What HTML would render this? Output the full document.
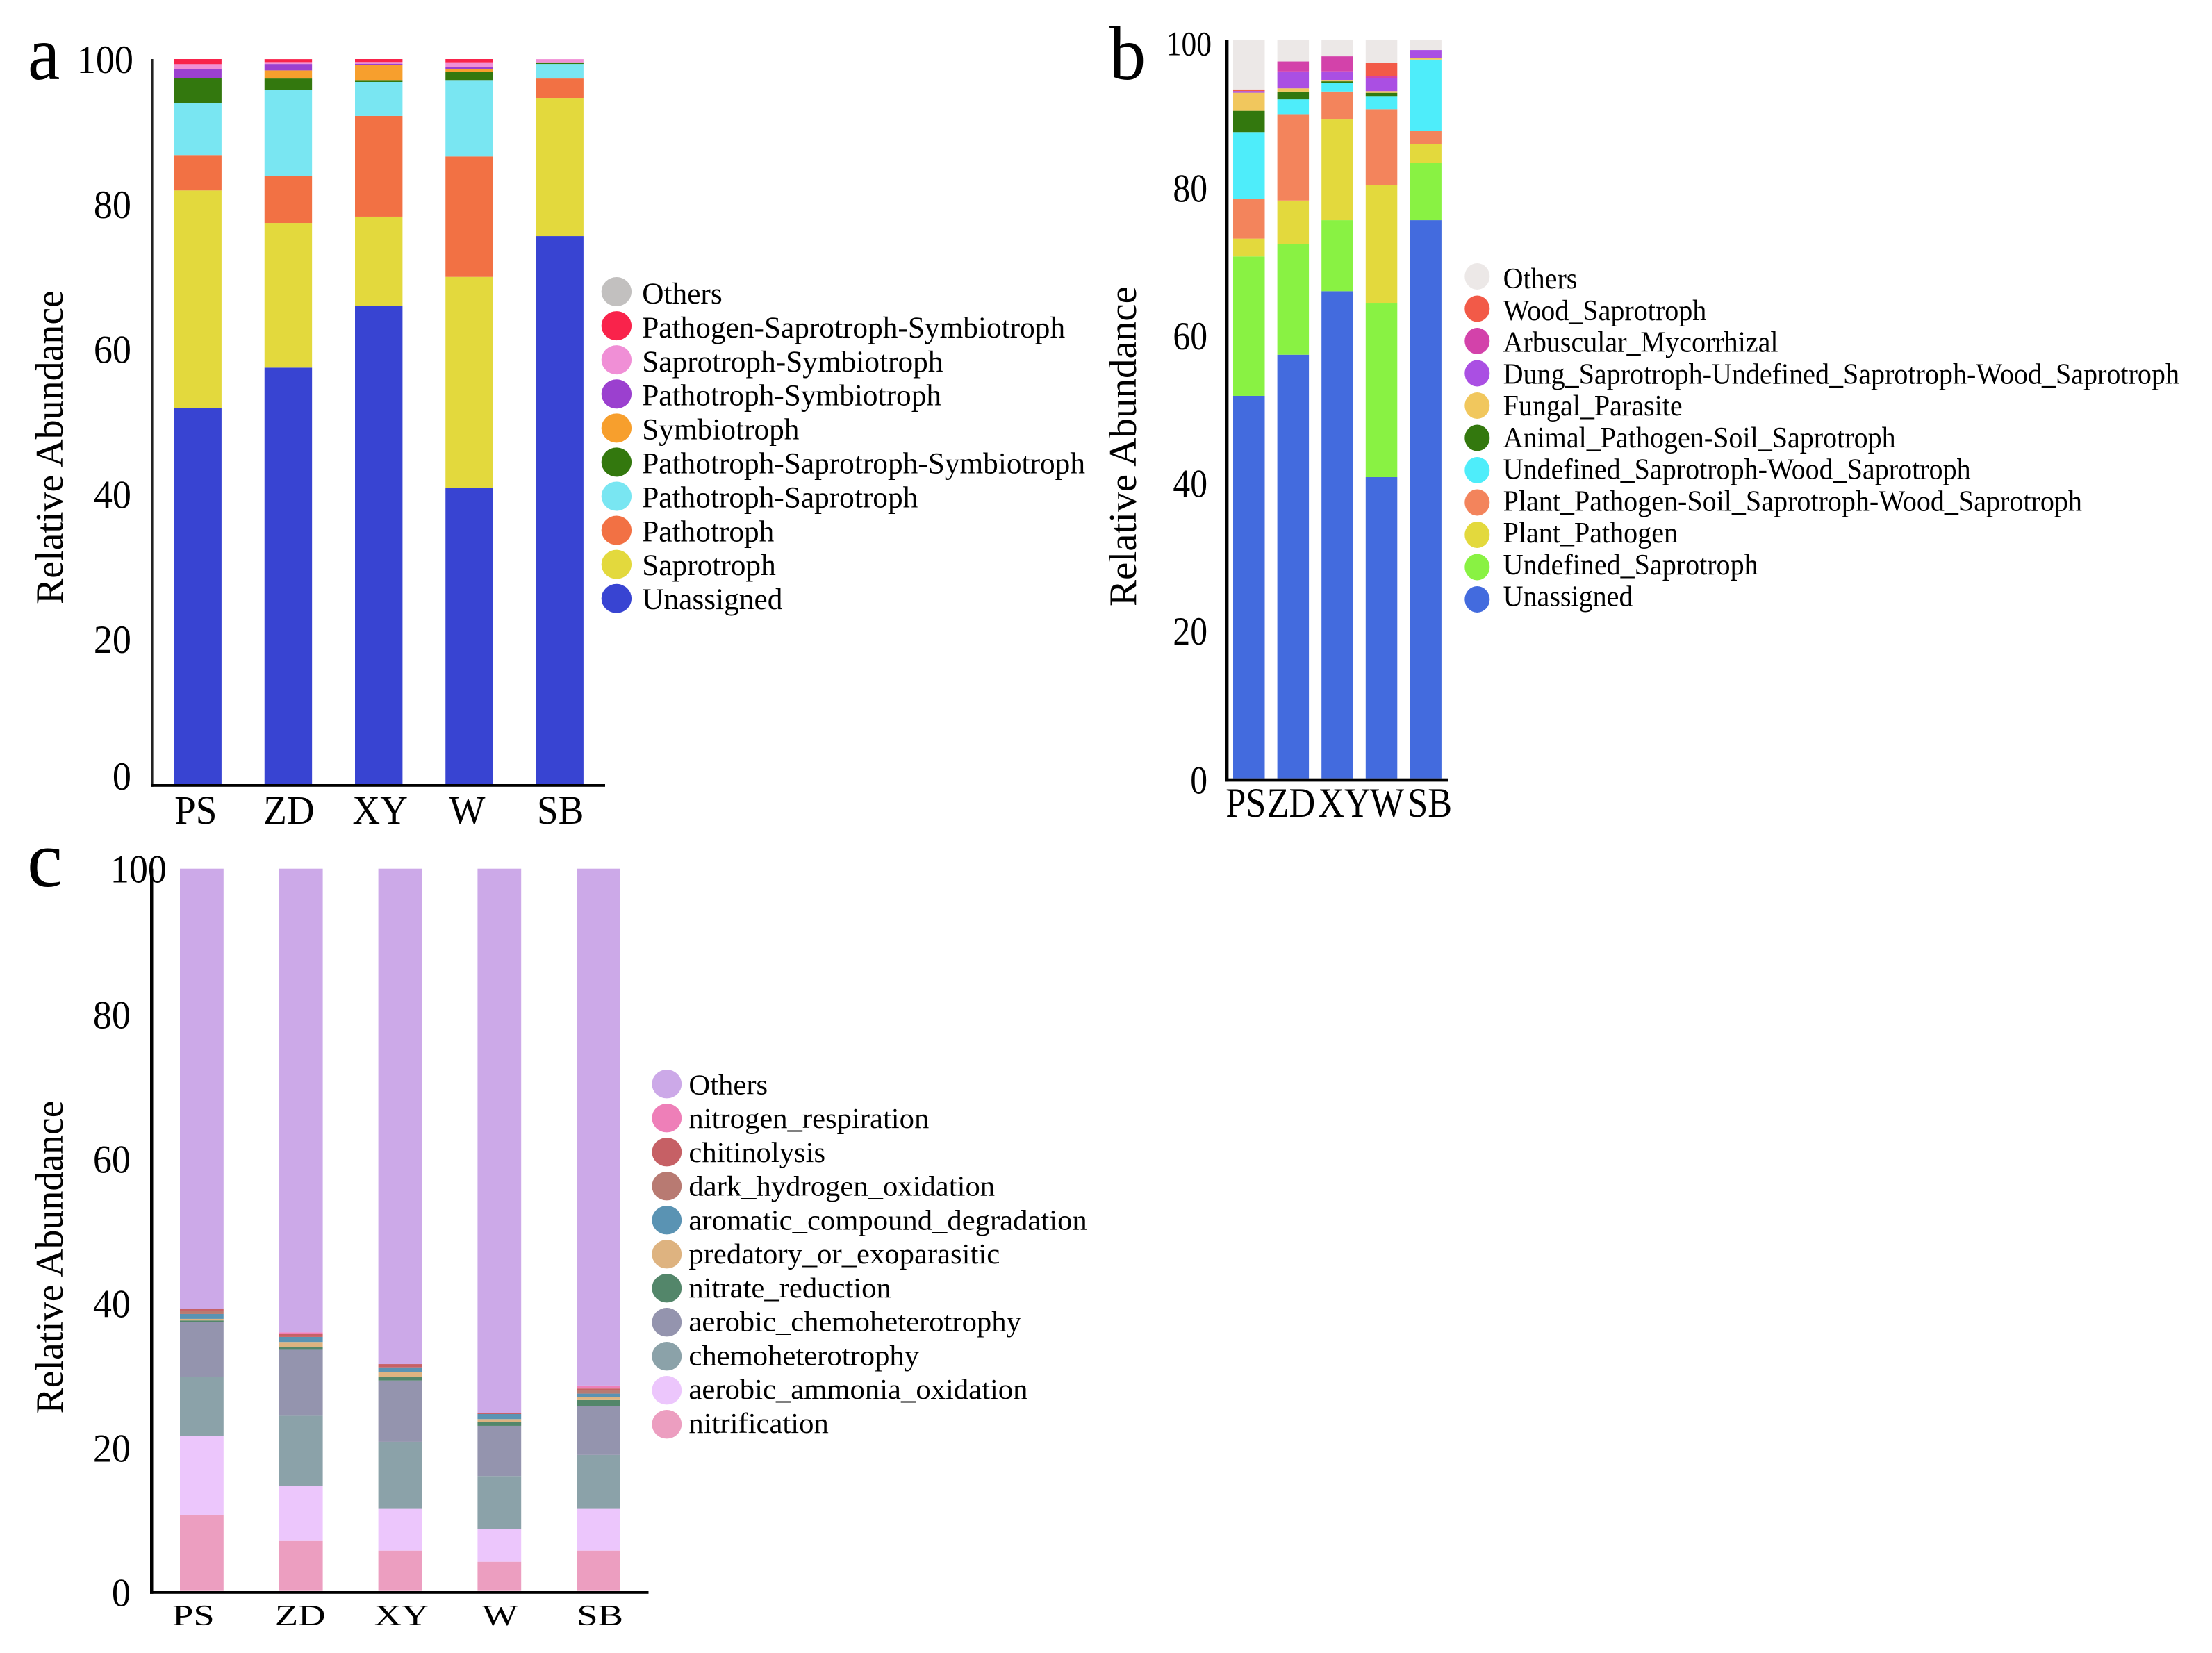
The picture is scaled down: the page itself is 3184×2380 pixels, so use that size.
<!DOCTYPE html>
<html lang="en">
<head>
<meta charset="utf-8">
<title>Relative abundance stacked bar charts</title>
<style>
  html, body { margin: 0; padding: 0; background: #ffffff; }
  svg { display: block; font-family: "Liberation Serif", "Times New Roman", serif; fill: #000; }
</style>
</head>
<body>
<svg id="figure" xmlns="http://www.w3.org/2000/svg" width="3184" height="2380" viewBox="0 0 3184 2380">
  <rect x="0" y="0" width="3184" height="2380" fill="#ffffff"></rect>
  <g id="panel-a"></g>
  <g id="panel-b"></g>
  <g id="panel-c"></g>
</svg>
<script>
// ---------- shared categories and ticks ----------
const categories = ['PS', 'ZD', 'XY', 'W', 'SB'];
const tickValues = [0, 20, 40, 60, 80, 100];

// ---------- panel a data (bottom to top) ----------
const aNames = ['Unassigned', 'Saprotroph', 'Pathotroph', 'Pathotroph-Saprotroph', 'Pathotroph-Saprotroph-Symbiotroph', 'Symbiotroph', 'Pathotroph-Symbiotroph', 'Saprotroph-Symbiotroph', 'Pathogen-Saprotroph-Symbiotroph', 'Others'];
const aColors = ['#3844d2', '#e3d93d', '#f27144', '#79e6f2', '#33780e', '#f79f2d', '#9b40cf', '#f08fd6', '#f9234b', '#c2c0bf'];
const aUnassigned = [51.85, 57.44, 65.93, 40.87, 75.57];
const aSaprotroph = [30.02, 19.95, 12.33, 29.08, 19.06];
const aPathotroph = [4.89, 6.51, 13.89, 16.61, 2.68];
const aPathSap = [7.18, 11.81, 4.69, 10.54, 2.01];
const aPathSapSym = [3.38, 1.6, 0.26, 1.11, 0.22];
const aSymbiotroph = [0, 1.12, 2.04, 0.42, 0];
const aPathSym = [1.31, 0.89, 0.22, 0.22, 0];
const aSapSym = [0.67, 0.26, 0.23, 0.7, 0.45];
const aPathogenSapSym = [0.7, 0.41, 0.41, 0.45, 0];
const aOthers = [0, 0, 0, 0, 0];

// ---------- panel b data (bottom to top) ----------
const bNames = ['Unassigned', 'Undefined_Saprotroph', 'Plant_Pathogen', 'Plant_Pathogen-Soil_Saprotroph-Wood_Saprotroph', 'Undefined_Saprotroph-Wood_Saprotroph', 'Animal_Pathogen-Soil_Saprotroph', 'Fungal_Parasite', 'Dung_Saprotroph-Undefined_Saprotroph-Wood_Saprotroph', 'Arbuscular_Mycorrhizal', 'Wood_Saprotroph', 'Others'];
const bColors = ['#436bde', '#89f243', '#e3d93d', '#f3845c', '#4eedfa', '#33780e', '#f1c75d', '#aa4fe3', '#d342aa', '#f25a48', '#ece8e7'];
const bUnassigned = [51.81, 57.38, 65.98, 40.8, 75.6];
const bUndefinedSap = [18.88, 15.02, 9.62, 23.61, 7.81];
const bPlantPathogen = [2.41, 5.86, 13.64, 15.9, 2.54];
const bPlantSoilWood = [5.36, 11.7, 3.79, 10.32, 1.79];
const bUndefinedWood = [9.07, 2.0, 1.13, 1.79, 9.62];
const bAnimalSoil = [2.88, 1.06, 0.25, 0.43, 0];
const bFungalParasite = [2.45, 0.44, 0.19, 0.23, 0.23];
const bDungWood = [0.23, 2.29, 1.16, 1.79, 1.06];
const bArbuscular = [0, 1.35, 2.04, 0.24, 0];
const bWoodSap = [0.22, 0, 0, 1.76, 0];
const bOthers = [6.71, 2.88, 2.19, 3.13, 1.35];

// ---------- panel c data (bottom to top) ----------
const cNames = ['nitrification', 'aerobic_ammonia_oxidation', 'chemoheterotrophy', 'aerobic_chemoheterotrophy', 'nitrate_reduction', 'predatory_or_exoparasitic', 'aromatic_compound_degradation', 'dark_hydrogen_oxidation', 'chitinolysis', 'nitrogen_respiration', 'Others'];
const cColors = ['#ec9ec0', '#ecc6fc', '#8ba2a9', '#9494ae', '#53866a', '#deb380', '#5a93b3', '#b87a72', '#c66065', '#ee7fb8', '#cca9e8'];
const cNitrification = [10.55, 6.92, 5.58, 4.04, 5.58];
const cAmmonia = [10.96, 7.66, 5.87, 4.49, 5.87];
const cChemo = [8.11, 9.68, 9.2, 7.38, 7.38];
const cAerobicChemo = [7.57, 9.13, 8.49, 6.95, 6.73];
const cNitrate = [0.26, 0.41, 0.45, 0.48, 0.87];
const cPredatory = [0.22, 0.67, 0.67, 0.45, 0.45];
const cAromatic = [0.67, 0.7, 0.7, 0.7, 0.44];
const cDarkHydrogen = [0.48, 0, 0, 0, 0.48];
const cChitinolysis = [0.19, 0.45, 0.45, 0.19, 0.23];
const cNitrogenResp = [0, 0.19, 0, 0, 0.41];
const cOthers = [60.99, 64.19, 68.59, 75.32, 71.56];

const aSeries = [aUnassigned, aSaprotroph, aPathotroph, aPathSap, aPathSapSym, aSymbiotroph, aPathSym, aSapSym, aPathogenSapSym, aOthers];
const bSeries = [bUnassigned, bUndefinedSap, bPlantPathogen, bPlantSoilWood, bUndefinedWood, bAnimalSoil, bFungalParasite, bDungWood, bArbuscular, bWoodSap, bOthers];
const cSeries = [cNitrification, cAmmonia, cChemo, cAerobicChemo, cNitrate, cPredatory, cAromatic, cDarkHydrogen, cChitinolysis, cNitrogenResp, cOthers];

const SVG_NS = 'http://www.w3.org/2000/svg';

function makeNode(parent, tag) {
  const el = document.createElementNS(SVG_NS, tag);
  parent.appendChild(el);
  return el;
}

function makeText(parent, str, x, y, size, anchor, sx) {
  const el = makeNode(parent, 'text');
  el.textContent = str;
  el.setAttribute('font-size', size);
  el.setAttribute('text-anchor', anchor);
  el.setAttribute('transform', 'translate(' + x + ' ' + y + ') scale(' + sx + ' 1)');
  return el;
}

function drawPanel(root, cfg) {
  const yScale = function (v) { return cfg.y0 - v * cfg.yUnit; };
  const band = function (i) { return cfg.barLeft + i * cfg.barStep; };

  // stacked bars
  categories.forEach(function (cat, i) {
    let cumulative = 0;
    cfg.series.forEach(function (values, s) {
      const v = values[i];
      if (v > 0) {
        const rect = makeNode(root, 'rect');
        
        
        rect.setAttribute('data-series', cfg.names[s]);
        rect.setAttribute('data-category', cat);
        rect.setAttribute('x', band(i));
        rect.setAttribute('width', cfg.barWidth);
        rect.setAttribute('y', yScale(cumulative + v));
        rect.setAttribute('height', yScale(cumulative) - yScale(cumulative + v));
        rect.setAttribute('fill', cfg.colors[s]);
      }
      cumulative += v;
    });
  });

  // axes
  const yAxis = makeNode(root, 'rect');
  
  
  yAxis.setAttribute('x', cfg.axisX);
  yAxis.setAttribute('y', yScale(100));
  yAxis.setAttribute('width', cfg.axisW);
  yAxis.setAttribute('height', cfg.axisBottom + cfg.axisH - yScale(100));
  yAxis.setAttribute('fill', cfg.axisColor);

  const xAxis = makeNode(root, 'rect');
  
  
  xAxis.setAttribute('x', cfg.axisX);
  xAxis.setAttribute('y', cfg.axisBottom);
  xAxis.setAttribute('width', cfg.axisEnd - cfg.axisX);
  xAxis.setAttribute('height', cfg.axisH);
  xAxis.setAttribute('fill', '#000000');

  // y tick labels
  tickValues.forEach(function (v) {
    const isTop = v === 100;
    const baseline = yScale(v) + cfg.tickOffset + (v === 0 ? cfg.zeroLift : 0) + (isTop ? cfg.topDy : 0);
    const right = cfg.tickRight + (isTop ? cfg.topDx : 0);
    const size = isTop ? cfg.topSize : cfg.tickSize;
    const label = makeText(root, String(v), right, baseline, size, 'end', cfg.tickSx);
    
    
  });

  // x category labels
  categories.forEach(function (cat, i) {
    const cx = band(i) + cfg.barWidth / 2 + cfg.xLabelDx[i];
    const label = makeText(root, cat, cx, cfg.xLabelY, cfg.xLabelSize, 'middle', cfg.xLabelSx);
    
    
  });

  // y axis title
  const title = makeNode(root, 'text');
  title.textContent = 'Relative Abundance';
  
  
  title.setAttribute('font-size', cfg.titleSize);
  title.setAttribute('text-anchor', 'middle');
  title.setAttribute('transform', 'translate(' + cfg.titleX + ' ' + cfg.titleY + ') rotate(-90)');
  title.setAttribute('textLength', cfg.titleLen);
  title.setAttribute('lengthAdjust', 'spacingAndGlyphs');

  // panel letter
  const letter = makeText(root, cfg.letter, cfg.letterX, cfg.letterY, cfg.letterSize, 'start', cfg.letterSx);
  
  

  // legend (top to bottom is the reverse of the stack)
  const legendLabels = [];
  const rows = cfg.names.slice().reverse();
  const rowColors = cfg.colors.slice().reverse();
  rows.forEach(function (name, r) {
    const entry = makeNode(root, 'g');
    
    

    const dot = makeNode(entry, 'ellipse');
    
    
    dot.setAttribute('cx', cfg.legendCx);
    dot.setAttribute('cy', cfg.legendCy + r * cfg.legendStep);
    dot.setAttribute('rx', cfg.legendRx);
    dot.setAttribute('ry', cfg.legendRy);
    dot.setAttribute('fill', rowColors[r]);

    const text = makeText(entry, name, cfg.legendTextX, cfg.legendBase + r * cfg.legendBaseStep, cfg.legendSize, 'start', 1);
    
    
    legendLabels.push(text);
  });

  // fit the legend horizontally: the longest label spans the measured width
  let longest = 0;
  legendLabels.forEach(function (t) { longest = Math.max(longest, t.getComputedTextLength()); });
  const fit = cfg.legendWidth / longest;
  legendLabels.forEach(function (t, r) {
    t.setAttribute('transform', 'translate(' + cfg.legendTextX + ' ' + (cfg.legendBase + r * cfg.legendBaseStep) + ') scale(' + fit + ' 1)');
  });
}

drawPanel(document.getElementById('panel-a'), {
  series: aSeries, names: aNames, colors: aColors,
  y0: 1129, yUnit: 10.44, barLeft: 250.5, barStep: 130.25, barWidth: 68.4,
  axisX: 217, axisW: 3.6, axisBottom: 1129, axisH: 3.8, axisEnd: 871, axisColor: '#222222',
  tickOffset: 20, zeroLift: -12, tickRight: 189, topDx: 3, topDy: 0, tickSize: 57, topSize: 57, tickSx: 0.95,
  xLabelY: 1186, xLabelSize: 58, xLabelSx: 0.95, xLabelDx: [-3, 1, 2, -3, 1],
  titleSize: 56, titleX: 90, titleY: 644, titleLen: 452,
  letter: 'a', letterX: 40, letterY: 114, letterSize: 110, letterSx: 0.95,
  legendCx: 887.4, legendCy: 420, legendStep: 49.08, legendRx: 21.7, legendRy: 21,
  legendTextX: 924.2, legendBase: 437, legendBaseStep: 48.9, legendSize: 43, legendWidth: 638
});

drawPanel(document.getElementById('panel-b'), {
  series: bSeries, names: bNames, colors: bColors,
  y0: 1120.7, yUnit: 10.63, barLeft: 1775, barStep: 63.6, barWidth: 45.5,
  axisX: 1763.5, axisW: 4.9, axisBottom: 1120.7, axisH: 4.7, axisEnd: 2084, axisColor: '#000000',
  tickOffset: 20, zeroLift: 2, tickRight: 1738, topDx: 6, topDy: 2, tickSize: 57, topSize: 50, tickSx: 0.87,
  xLabelY: 1176, xLabelSize: 60, xLabelSx: 0.87, xLabelDx: [-4.5, -3, 10, 8, 6],
  titleSize: 56, titleX: 1635, titleY: 642.5, titleLen: 461,
  letter: 'b', letterX: 1597, letterY: 114, letterSize: 110, letterSx: 0.95,
  legendCx: 2126.3, legendCy: 398, legendStep: 46.5, legendRx: 18, legendRy: 19,
  legendTextX: 2163.6, legendBase: 415, legendBaseStep: 45.75, legendSize: 42, legendWidth: 973.6
});

drawPanel(document.getElementById('panel-c'), {
  series: cSeries, names: cNames, colors: cColors,
  y0: 2290.7, yUnit: 10.4, barLeft: 259, barStep: 142.8, barWidth: 62.8,
  axisX: 216, axisW: 4.5, axisBottom: 2291, axisH: 3.8, axisEnd: 933.5, axisColor: '#000000',
  tickOffset: 22, zeroLift: 0, tickRight: 188, topDx: 52, topDy: -2, tickSize: 57, topSize: 57, tickSx: 0.95,
  xLabelY: 2340, xLabelSize: 42, xLabelSx: 1.3, xLabelDx: [-12, -1, 2, 1, 2],
  titleSize: 56, titleX: 90, titleY: 1810, titleLen: 451,
  letter: 'c', letterX: 39, letterY: 1276, letterSize: 115, letterSx: 1,
  legendCx: 959.8, legendCy: 1560.7, legendStep: 49, legendRx: 21.4, legendRy: 20.7,
  legendTextX: 991.4, legendBase: 1575.4, legendBaseStep: 48.75, legendSize: 41, legendWidth: 573.6
});
</script>
</body>
</html>
